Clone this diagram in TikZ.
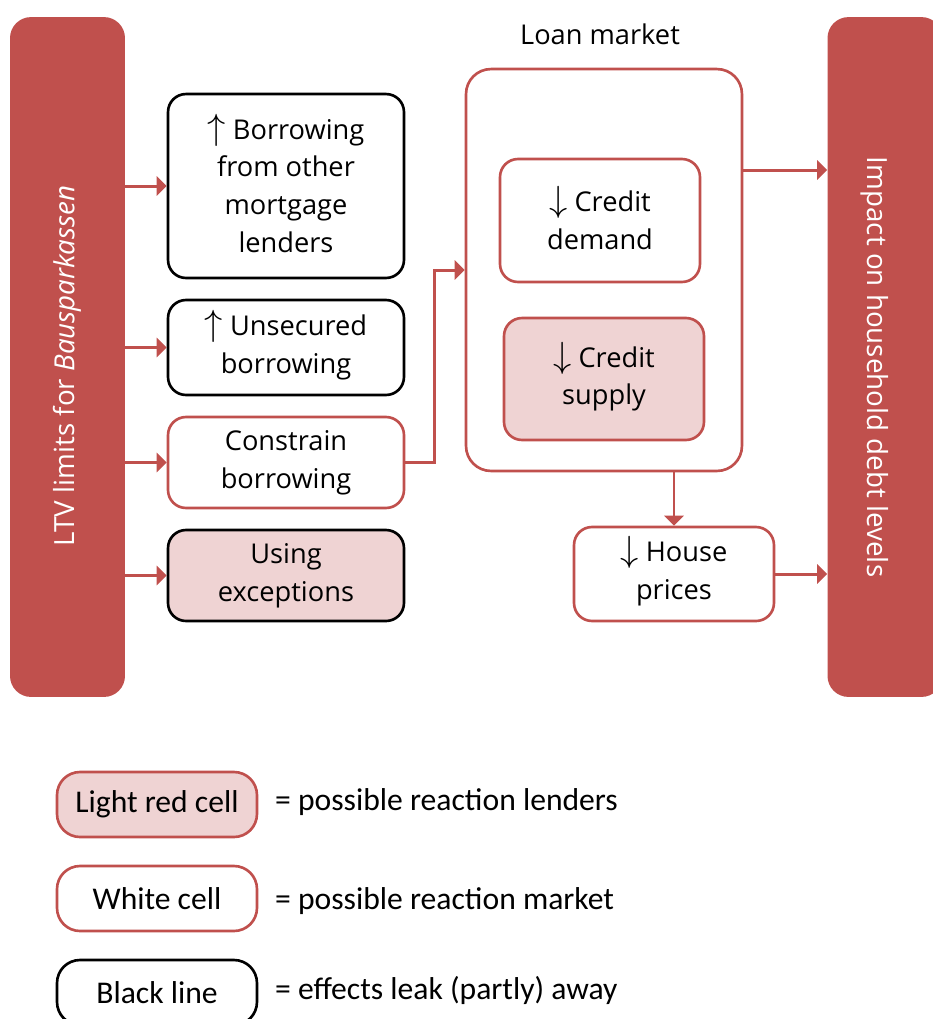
\documentclass[tikz,border=0pt]{standalone}
\usepackage{fontspec}
\setmainfont{Open Sans}
\newfontfamily\legendfont{Carlito}
\usetikzlibrary{arrows.meta}
\definecolor{barred}{HTML}{C0504D}
\definecolor{cellred}{HTML}{EFD3D3}
\newcommand{\up}{\smash{\fontsize{21}{21}\selectfont$\uparrow$}}
\newcommand{\down}{\smash{\fontsize{21}{21}\selectfont$\downarrow$}}
\tikzset{
  cell/.style={draw=barred, line width=1.5pt, rounded corners=0.36cm, fill=white,
    align=center, minimum width=4.72cm, inner sep=2pt,
    font=\fontsize{15.5}{21.5}\selectfont},
  leak/.style={cell, draw=black},
  lender/.style={cell, fill=cellred},
  bar/.style={fill=barred, rounded corners=0.42cm, minimum width=2.3cm,
    minimum height=13.6cm},
  bartext/.style={text=white, font=\fontsize{15.8}{21.5}\selectfont},
  link/.style={draw=barred, line width=1.7pt, -{Triangle[length=5.7pt,width=11pt]}},
  key/.style={cell, minimum width=4cm, minimum height=1.3cm, rounded corners=0.46cm,
    font=\legendfont\fontsize{18}{22}\selectfont},
  keytext/.style={anchor=west, font=\legendfont\fontsize{18}{22}\selectfont},
}
\begin{document}
\begin{tikzpicture}[x=0.02cm, y=-0.02cm] % transmission chart
  \useasboundingbox (0,0) rectangle (933,1019);
  \node[bar] (ltv) at (67.5,357) {};
  \node[bar] (impact) at (885,357) {};
  \node[bartext, rotate=90] (ltvtext) at (67,366) {LTV limits for \textit{Bausparkassen}};
  \node[bartext, rotate=-90] (impacttext) at (875,367) {Impact on household debt levels};
  \node[leak, minimum height=3.68cm] (other) at (286,186)
    {\up\ Borrowing\\from other\\mortgage\\lenders};
  \node[leak, minimum height=1.9cm] (unsec) at (286,347.5) {\up\ Unsecured\\borrowing};
  \node[cell, minimum height=1.82cm] (constrain) at (286,462.5) {Constrain\\borrowing};
  \node[leak, fill=cellred, minimum height=1.82cm] (except) at (286,575.5) {Using\\exceptions};
  \node[font=\fontsize{15.5}{21.5}\selectfont] (marketlabel) at (600,34) {Loan market};
  \node[draw=barred, line width=1.5pt, rounded corners=0.5cm, minimum width=5.52cm,
    minimum height=8.04cm] (market) at (604,270) {};
  \node[cell, minimum width=4cm, minimum height=2.46cm] (demand) at (600,220.5)
    {\down\ Credit\\demand};
  \node[lender, minimum width=4cm, minimum height=2.44cm] (supply) at (604,379)
    {\down\ Credit\\supply};
  \node[cell, minimum width=4cm, minimum height=1.88cm] (house) at (674,574)
    {\down\ House\\prices};
  \draw[link] (ltv.east |- other.west) -- (other.west);
  \draw[link] (ltv.east |- unsec.west) -- (unsec.west);
  \draw[link] (ltv.east |- constrain.west) -- (constrain.west);
  \draw[link] (ltv.east |- except.west) -- (except.west);
  \draw[link] (constrain.east) -- ++(0.58cm,0) |- (market.west);
  \draw[link] ([yshift=2cm]market.east) -- ([yshift=2cm]market.east -| impact.west);
  \draw[link] (market.south -| house.north) -- (house.north);
  \draw[link] (house.east) -- (house.east -| impact.west);
  % legend
  \node[key, fill=cellred] (keylender) at (157,804.5) {Light red cell};
  \node[key] (keymarket) at (157,898.5) {White cell};
  \node[key, draw=black] (keyleak) at (157,992.5) {Black line};
  \node[keytext] (lendertext) at (269,802) {= possible reaction lenders};
  \node[keytext] (markettext) at (269,901) {= possible reaction market};
  \node[keytext] (leaktext) at (269,990) {= effects leak (partly) away};
\end{tikzpicture}
\end{document}
